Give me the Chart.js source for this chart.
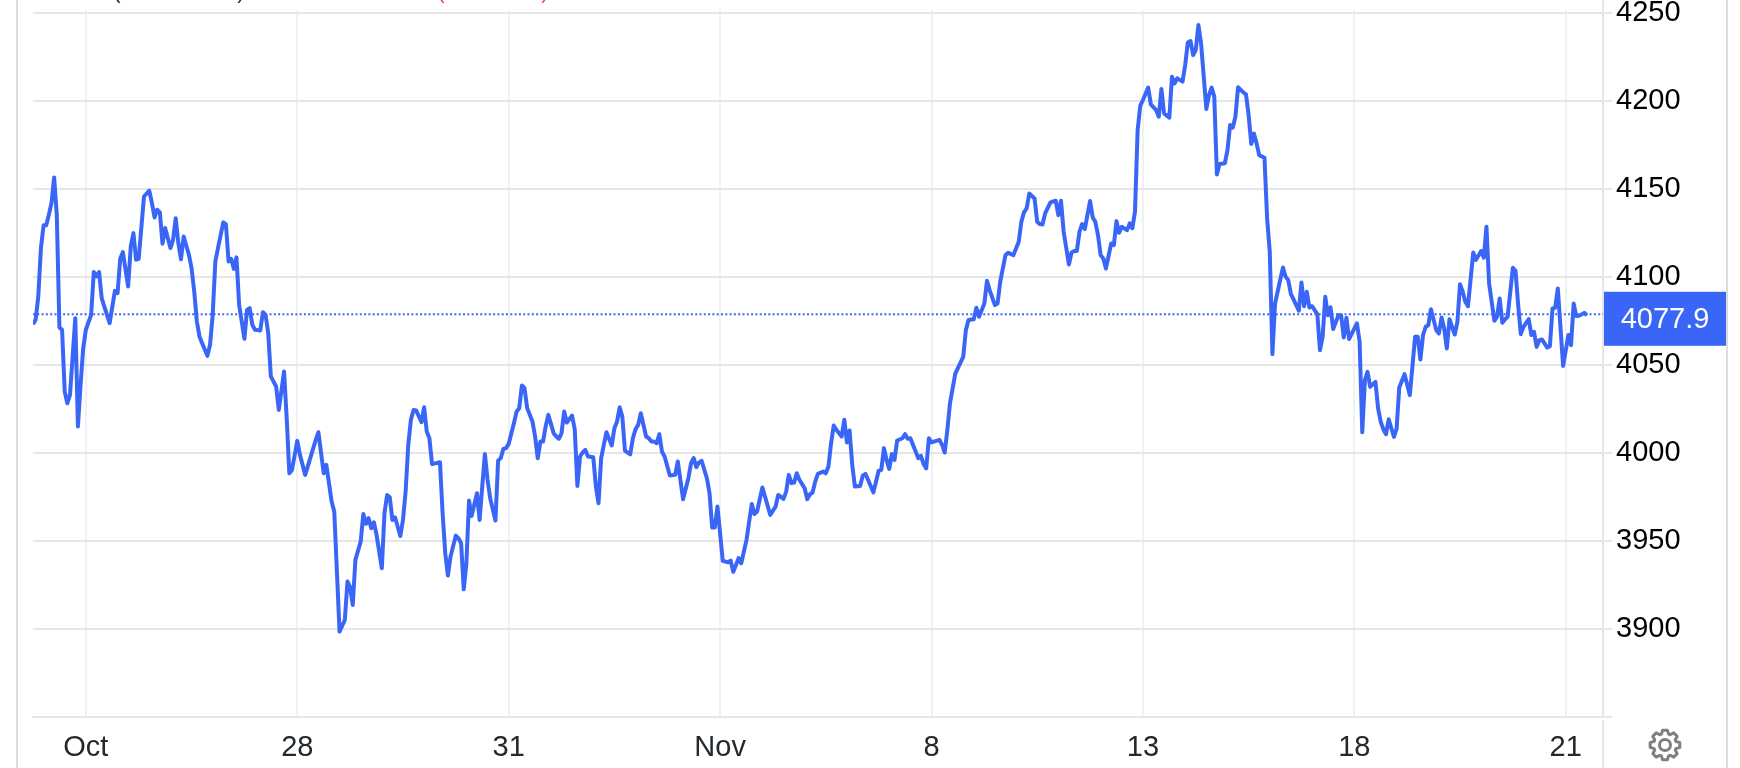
<!DOCTYPE html>
<html>
<head>
<meta charset="utf-8">
<title>Chart</title>
<script src="https://cdn.jsdelivr.net/npm/chart.js@4/dist/chart.umd.min.js"></script>
<style>
  html, body { margin: 0; padding: 0; background: #fff; }
  canvas { display: block; }
</style>
</head>
<body>
<canvas id="chart" width="1740" height="768"></canvas>
<script>
const tickBars = [20, 100, 180, 260, 340, 420, 500, 580];
const tickLabels = ['Oct', '28', '31', 'Nov', '8', '13', '18', '21'];
const yTicks = [3850, 3900, 3950, 4000, 4050, 4100, 4150, 4200, 4250];
const yTickLabels = ['', '3900', '3950', '4000', '4050', '4100', '4150', '4200', '4250'];
const lastPrice = ['4077.9'];
const lastPriceLevel = [4078.7];

// bar number of each turning point, and the price there
const priceBars = [
  0,1,2,3,4,5,6,7,8,9,10,11,12,13,14,16,17,18,19,20,22,23,24,25,26,27,29,31,32,33,34,36,37,38,39,40,42,44,45,46,47,48,49,50,52,53,54,55,56,57,59,60,61,62,63,64,66,67,68,69,70,72,73,74,75,76,77,78,80,81,82,83,84,86,87,88,89,90,92,93,95,96,97,98,100,101,103,107,108,110,111,
  113,114,115,116,118,119,120,121,122,124,125,126,127,128,129,130,132,133,134,135,136,137,139,140,141,142,143,144,145,147,148,149,150,151,154,155,156,157,158,160,161,162,163,164,165,166,168,169,170,171,172,173,175,176,177,178,179,180,182,183,184,185,186,187,189,190,191,192,193,194,195,197,198,199,200,201,202,204,205,206,207,208,209,210,212,213,214,215,216,217,219,220,221,222,223,224,226,227,228,229,230,
  232,233,234,235,236,237,238,239,241,243,244,246,248,249,250,251,252,253,255,256,257,258,259,260,261,263,264,265,267,268,270,271,272,273,274,276,279,281,282,284,285,286,287,288,289,290,292,293,294,295,296,297,299,300,301,302,303,304,306,307,308,309,310,311,313,314,315,316,318,320,321,322,323,324,325,326,327,329,330,331,332,335,336,337,338,339,340,343,344,345,346,347,
  349,352,353,354,356,357,358,360,361,362,364,365,366,368,369,371,373,374,375,376,377,379,380,381,382,383,385,387,388,389,390,392,393,394,395,396,397,398,400,401,402,403,404,405,406,408,409,410,411,412,414,415,416,417,418,419,420,422,423,425,426,427,428,430,431,432,433,435,436,437,438,439,440,441,442,444,445,446,447,448,449,451,452,453,454,455,456,458,459,460,461,462,463,464,466,467,
  468,469,470,473,474,475,476,477,479,480,481,482,483,484,486,487,488,489,490,491,492,494,495,496,497,498,501,502,503,504,505,506,508,509,510,511,512,513,515,516,517,519,521,523,524,525,526,527,528,529,531,532,533,534,535,536,538,539,540,541,542,543,545,546,548,549,550,551,553,554,555,556,557,558,560,561,562,563,564,566,567,568,569,570,571,573,574,575,576,577,578,579,581,582,583,584,585,587,588
];
const priceValues = [
  4073,4075.6,4088.8,4116.3,4129.2,4129.2,4135.2,4141.9,4156.4,4135.2,4071.2,4069.9,4034.8,4028.2,4032.9,4076.5,4015,4038.6,4059.5,4069.9,4078.4,4102.7,4100.2,4102.7,4087.9,4083.1,4073.7,4092,4090.7,4110.2,4114,4094.5,4117.2,4124.8,4109.7,4110.2,4145.6,4148.9,4141.9,4133.7,4138.1,4136.6,4118.8,4127.7,4116.3,4121,4133.3,4119.1,4110,4122.9,4112.5,4104.9,4091.7,4074.6,4066.1,4062.3,4055.1,4061.4,4078.4,4108.7,4116.3,4130.9,4129.9,4108.7,4110.2,4104.5,4111,4084.1,4064.8,4081.2,4082.2,4072.7,4069.9,4069.5,4079.9,4078.4,4068,4043.4,4037.7,4024.4,4046.2,4019.7,3988.4,3990.3,4006.8,3998.9,3987.5,4007.4,4011.7,3988.4,3993.2,
  3972.3,3966.7,3932.6,3898.5,3905.1,3926.9,3923.7,3913.6,3939.2,3949.6,3965.3,3959.7,3962.9,3957.2,3960.6,3953.4,3934.5,3965.7,3976.1,3974.8,3961.9,3963.4,3952.8,3961.9,3978,4004.5,4018.8,4024.4,4024.1,4017.4,4025.9,4012.1,4008.3,3993.6,3994.7,3965.7,3943,3930.3,3941.1,3953,3951.5,3948.7,3922.5,3937.3,3972.9,3964.2,3977.1,3961.9,3980.9,3999.4,3984.7,3974.2,3961.6,3995.6,3997,4002.3,4002.7,4005.1,4016.9,4023.5,4025.4,4038.3,4036.7,4025.4,4017.8,4009.3,3997,4006.4,4006.4,4015,4021.6,4011.2,4009.3,4008,4011.2,4023.5,4017.2,4021.2,4013.4,3981.2,3997.9,4000.2,4001.7,3997.9,3997.5,3980.9,3971.4,3997,4004.5,4011.7,4004.2,4014,4017.8,4025.9,4020.6,4001.3,3999.2,4008.3,4013.4,4015.9,4022.5,
  4009.3,4008.3,4006.4,4006.4,4005.5,4010.6,4000.8,3997.9,3987.1,3987.5,3995.1,3973.7,3985.6,3994.1,3997,3991.9,3994.5,3995.5,3985.6,3977.1,3957.6,3957.6,3969.5,3954.4,3938.7,3937.9,3938.8,3932.4,3940.2,3937.3,3950.6,3961,3971,3965.3,3966.7,3980.3,3964.8,3969.5,3976.1,3973.9,3978,3987.5,3982.8,3983.1,3988.4,3984.7,3979.9,3973.7,3976.5,3977.5,3983.7,3988.1,3989.4,3988.4,3992.2,4005.5,4015.5,4013.1,4009.3,4018.8,4005.9,4012.7,3993.2,3980.9,3981.2,3987.1,3988.1,3984.7,3977.5,3989.8,3990.3,4002.7,3996,3990.9,3999.4,3996,4007,4008.3,4010.6,4008,4008.3,3997,3998.3,3993.7,3991.2,4008.3,4006,4007.4,4004.5,4000.2,4013.1,4028.2,
  4045,4054.5,4069.7,4075.4,4075.9,4082.4,4077.3,4084.8,4097.7,4092.4,4083.9,4084.8,4097.2,4112.3,4113.6,4112.3,4119.9,4131.2,4136.6,4138.8,4147.3,4144.5,4131.2,4129.9,4129.7,4136,4142.2,4143.2,4135,4143.2,4125.6,4107,4113.8,4114.6,4114.6,4125.6,4129.9,4127.1,4143,4133.7,4131.2,4123.7,4112.3,4110.4,4104.7,4118.9,4118,4131.6,4125,4128.4,4126.5,4130.3,4127.5,4136.9,4183.3,4197.2,4200.4,4207.4,4197.9,4194.7,4190.9,4206.6,4192.8,4190.4,4213.6,4209.8,4212.7,4210.8,4220.3,4233.1,4233.9,4225.9,4228.8,4243,4232.6,4195.3,4203.2,4207.4,4202.3,4158.1,4164,4164.4,4172,4186.2,4184.7,4190.9,4207.6,4204.7,4203.6,4191.9,4175.4,4181.4,4175.8,4169.1,4167.6,4133.1,
  4114.2,4056.1,4084.8,4105.3,4100,4098.1,4090.2,4087.1,4080.7,4096.8,4083.3,4091.5,4082.6,4083.3,4078.8,4058.3,4065.9,4088.6,4078.2,4082.6,4070.3,4078.2,4078.2,4065.5,4076.7,4064.6,4073.5,4063.1,4011.7,4041.3,4046,4037.5,4040.3,4025.2,4017.6,4013.3,4010.6,4019.1,4009.1,4013.8,4037.1,4044.7,4032.8,4065.9,4065.9,4053,4066.9,4071.6,4072.5,4081.6,4069.7,4067.8,4076.9,4070.6,4059.3,4075.9,4067.2,4074.4,4095.8,4091.5,4085.8,4083.3,4113.8,4109.5,4114.6,4110.8,4128.4,4096.2,4075,4077.3,4087.7,4073.9,4075.8,4077.3,4105.1,4103.4,4083.9,4067.4,4071.6,4075.9,4066.9,4068.7,4060.2,4064,4064.4,4059.8,4060.6,4082,4082.4,4093.4,4071.6,4049.4,4066.9,4061.2,4084.8,4077.7,4077.8,4079.5,4078.2
];

const BLUE = '#3a66f7';
const GRID = '#e6e6e6';
const FONT = '"Liberation Sans", Arial, sans-serif';
const X_MAX = 594.1;

// page frame, clipped header text, price tag and settings gear
const framePlugin = {
  id: 'frame',
  afterDraw(chart) {
    const c = chart.ctx;
    const a = chart.chartArea;
    c.save();

    c.fillStyle = '#dcdcdc';
    c.fillRect(16, 0, 2, 768);
    c.fillRect(1726, 0, 2, 768);
    c.fillStyle = GRID;
    c.fillRect(a.right - 1, 0, 2, a.top);
    c.fillRect(a.right - 1, 720, 2, 48);

    c.font = '22px ' + FONT;
    c.textAlign = 'center';
    c.textBaseline = 'alphabetic';
    c.fillStyle = '#24292e';
    c.fillText('(', 117, -2);
    c.fillText(')', 241, -2);
    c.fillStyle = '#e8503a';
    c.fillText('(', 441, -2);
    c.fillText(')', 545, -2);

    const py = chart.scales.y.getPixelForValue(lastPriceLevel[0]);
    c.fillStyle = BLUE;
    c.fillRect(1604, py - 22.5, 122, 54);
    c.fillStyle = '#fff';
    c.font = '29px ' + FONT;
    c.textBaseline = 'middle';
    c.fillText(lastPrice[0], 1665, py + 5.5);

    // gear
    const gx = 1665, gy = 745;
    c.strokeStyle = '#7f7f7f';
    c.lineWidth = 3;
    c.lineJoin = 'round';
    c.beginPath();
    for (let i = 0; i < 8; i++) {
      const t = i * Math.PI / 4 - Math.PI / 2;
      const s = 0.2;
      [[t - s * 1.6, 11.5], [t - s * 0.8, 15], [t + s * 0.8, 15], [t + s * 1.6, 11.5]].forEach(p => {
        c.lineTo(gx + p[1] * Math.cos(p[0]), gy + p[1] * Math.sin(p[0]));
      });
    }
    c.closePath();
    c.stroke();
    c.beginPath();
    c.arc(gx, gy, 5.5, 0, Math.PI * 2);
    c.stroke();

    c.restore();
  }
};

new Chart(document.getElementById('chart').getContext('2d'), {
  type: 'line',
  data: {
    datasets: [
      {
        data: priceBars.map((b, i) => ({ x: b, y: priceValues[i] })),
        borderColor: BLUE,
        borderWidth: 4,
        borderJoinStyle: 'round',
        pointRadius: 0,
        tension: 0,
        order: 1
      },
      {
        data: [{ x: 0, y: lastPriceLevel[0] }, { x: X_MAX, y: lastPriceLevel[0] }],
        borderColor: BLUE,
        borderWidth: 2,
        borderDash: [2, 2.3],
        pointRadius: 0,
        order: 2
      }
    ]
  },
  plugins: [framePlugin],
  options: {
    responsive: false,
    animation: false,
    layout: { padding: { left: 33, top: 10, right: 0, bottom: 0 } },
    plugins: { legend: { display: false }, tooltip: { enabled: false } },
    scales: {
      x: {
        type: 'linear',
        min: 0,
        max: X_MAX,
        afterBuildTicks(scale) { scale.ticks = tickBars.map(v => ({ value: v })); },
        afterFit(scale) {
          scale.height = 51;
          scale.paddingLeft = 0;
          scale.paddingRight = 0;
        },
        grid: { color: '#eef2f6', lineWidth: 2, drawTicks: false },
        border: { color: GRID, width: 2 },
        ticks: {
          autoSkip: false,
          maxRotation: 0,
          padding: 14,
          color: '#24292e',
          font: { family: FONT, size: 29 },
          callback: v => tickLabels[tickBars.indexOf(v)]
        }
      },
      y: {
        position: 'right',
        min: 3850,
        max: 4251.5,
        afterBuildTicks(scale) { scale.ticks = yTicks.map(v => ({ value: v })); },
        afterFit(scale) {
          scale.width = 137;
          scale.paddingTop = 0;
          scale.paddingBottom = 0;
        },
        grid: { color: GRID, lineWidth: 2, tickLength: 9 },
        border: { color: GRID, width: 2 },
        ticks: {
          padding: 4,
          color: '#000',
          font: { family: FONT, size: 29 },
          callback: v => yTickLabels[yTicks.indexOf(v)]
        }
      }
    }
  }
});
</script>
</body>
</html>
